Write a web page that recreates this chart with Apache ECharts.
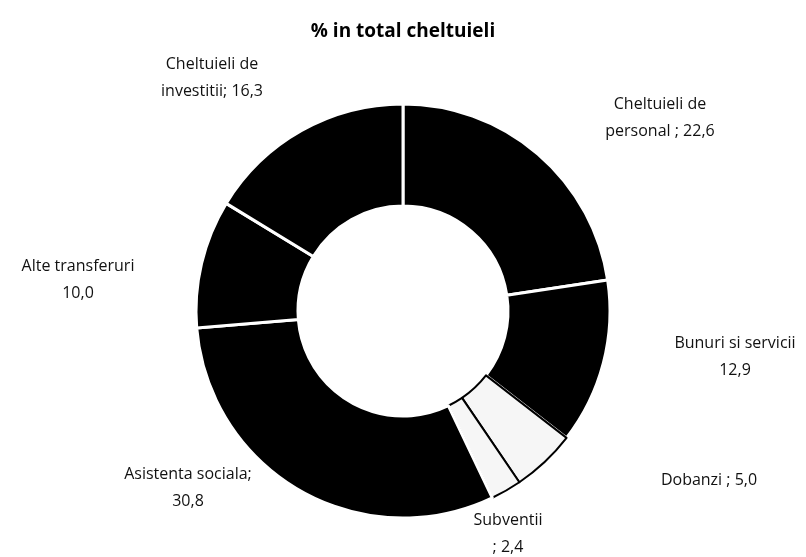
<!DOCTYPE html>
<html>
<head>
<meta charset="utf-8">
<script src="https://cdn.jsdelivr.net/npm/echarts@6/dist/echarts.min.js"></script>
<style>
	html, body { margin: 0; padding: 0; background: #fff; }
	#main { width: 806px; height: 557px; }
</style>
</head>
<body>
<div id="main"></div>
<script>
// categorii si valori (% in total cheltuieli)
var categories = ['Cheltuieli de personal', 'Bunuri si servicii', 'Dobanzi', 'Subventii',
	'Asistenta sociala', 'Alte transferuri', 'Cheltuieli de investitii'];
var values = [22.6, 12.9, 5.0, 2.4, 30.8, 10.0, 16.3];
// felii deschise la culoare (restul negre)
var lightSlices = ['Dobanzi', 'Subventii'];

// textul etichetelor, cum apare in poza
var labelText = [
	'Cheltuieli de\npersonal ; {v}',
	'Bunuri si servicii\n{v}',
	'Dobanzi ; {v}',
	'Subventii\n; {v}',
	'Asistenta sociala;\n{v}',
	'Alte transferuri\n{v}',
	'Cheltuieli de\ninvestitii; {v}'
];
// centrul etichetelor (layout, nu date)
var labelSpots = [[660, 118], [735, 357], [709, 480], [508, 534], [188, 488], [78, 280], [212, 78]];

var fmt = function(v){ return v.toFixed(1).replace('.', ','); };

var pieData = [];
for(var i=0;i<categories.length;i++){
	var light = lightSlices.indexOf(categories[i]) >= 0;
	pieData.push({
		name: categories[i],
		value: values[i],
		itemStyle: light ? {
			color: '#f6f6f6',
			borderColor: '#000',
			borderWidth: 2
		} : {
			color: '#000',
			borderColor: '#fff',
			borderWidth: 3
		}
	});
}

var myChart = echarts.init(document.getElementById('main'));

var option = {
	animation: false,
	backgroundColor: '#fff',
	title: {
		text: '% in total cheltuieli',
		left: 'center',
		top: 17,
		textStyle: {
			fontFamily: 'Open Sans',
			fontSize: 19,
			fontWeight: 'bold',
			color: '#000'
		}
	},
	series: [{
		type: 'pie',
		center: [403, 311],
		radius: [105, 207],
		startAngle: 90,
		clockwise: true,
		data: pieData,
		label: {
			show: true,
			position: 'outside',
			fontFamily: 'Open Sans',
			fontSize: 16,
			lineHeight: 27,
			color: '#111',
			align: 'center',
			formatter: function(p){
				return labelText[p.dataIndex].replace('{v}', fmt(p.value));
			}
		},
		labelLine: { show: false },
		labelLayout: function(params){
			var s = labelSpots[params.dataIndex];
			return {
				x: s[0],
				y: s[1],
				align: 'center',
				verticalAlign: 'middle'
			};
		}
	}]
};
myChart.setOption(option);
</script>
</body>
</html>
